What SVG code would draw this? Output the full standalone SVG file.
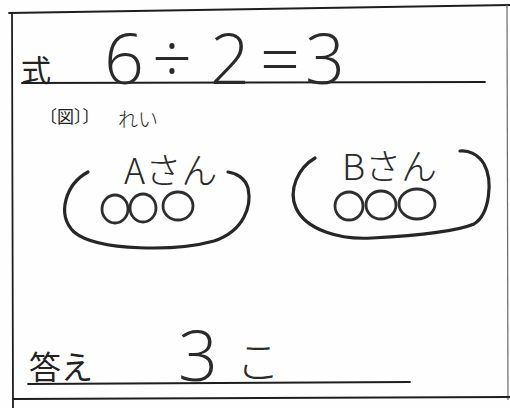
<svg xmlns="http://www.w3.org/2000/svg" width="510" height="408" viewBox="0 0 510 408">
<style>
.frame{fill:none;stroke:#1e1e1e;stroke-width:1.8;stroke-linecap:round}
.faint{fill:none;stroke:#6a6a6a;stroke-width:1.2}
.print{font-family:"Noto Sans CJK JP","Noto Sans CJK SC",sans-serif;fill:#222;font-weight:400}
.hand{font-family:"Open Sans","Liberation Sans",sans-serif;fill:#2a2a2a;font-weight:300}
.handjp{font-family:"Noto Sans CJK JP","Noto Sans CJK SC",sans-serif;fill:#2a2a2a;font-weight:300}
.loop{fill:none;stroke:#262626;stroke-width:3.2;stroke-linecap:round;stroke-linejoin:round}
.item{fill:none;stroke:#2e2e2e;stroke-width:2.8}
</style>
<rect width="510" height="408" fill="#fefefe"/>
<g id="frame">
<line class="frame" x1="9" y1="13" x2="510" y2="5"/>
<line class="frame" x1="12" y1="13" x2="13" y2="408"/>
<line class="faint" x1="507" y1="5" x2="508" y2="400"/>
<line class="frame" x1="13" y1="399" x2="510" y2="397"/>
</g>
<g id="formula">
<text class="print" x="21" y="81" font-size="30">式</text>
<line class="frame" x1="22" y1="83" x2="485" y2="82"/>
<text class="hand" font-size="70" x="104 152 210 260 305" y="84">6÷2=3</text>
</g>
<g id="figure-label">
<text class="print" x="40" y="123" font-size="17">〔図〕〕</text>
<text class="handjp" x="118" y="127" font-size="20" font-weight="700">れい</text>
</g>
<g id="node-a">
<path class="loop" d="M88,172 C66,184 56,214 74,232 C98,252 178,251 214,241 C244,231 252,206 248,188 C245,178 236,173 228,172"/>
<text class="handjp" x="124" y="184" font-size="36">Aさん</text>
<ellipse class="item" cx="115" cy="209" rx="13" ry="14"/>
<ellipse class="item" cx="143" cy="208" rx="13" ry="14"/>
<ellipse class="item" cx="178" cy="206" rx="15" ry="14"/>
</g>
<g id="node-b">
<path class="loop" d="M315,158 C298,168 288,190 296,208 C306,230 340,240 372,238 C410,236 455,232 474,224 C490,214 493,180 484,164 C478,154 468,150 460,151"/>
<text class="handjp" x="342" y="180" font-size="36">Bさん</text>
<ellipse class="item" cx="349" cy="206" rx="14" ry="14"/>
<ellipse class="item" cx="381" cy="205" rx="15" ry="14"/>
<ellipse class="item" cx="417" cy="204" rx="18" ry="15"/>
</g>
<g id="answer">
<text class="print" x="29" y="379" font-size="32">答え</text>
<line class="frame" x1="28" y1="384" x2="410" y2="382"/>
<text class="hand" x="178" y="381" font-size="70">3</text>
<text class="handjp" x="236" y="378" font-size="44">こ</text>
</g>
</svg>
